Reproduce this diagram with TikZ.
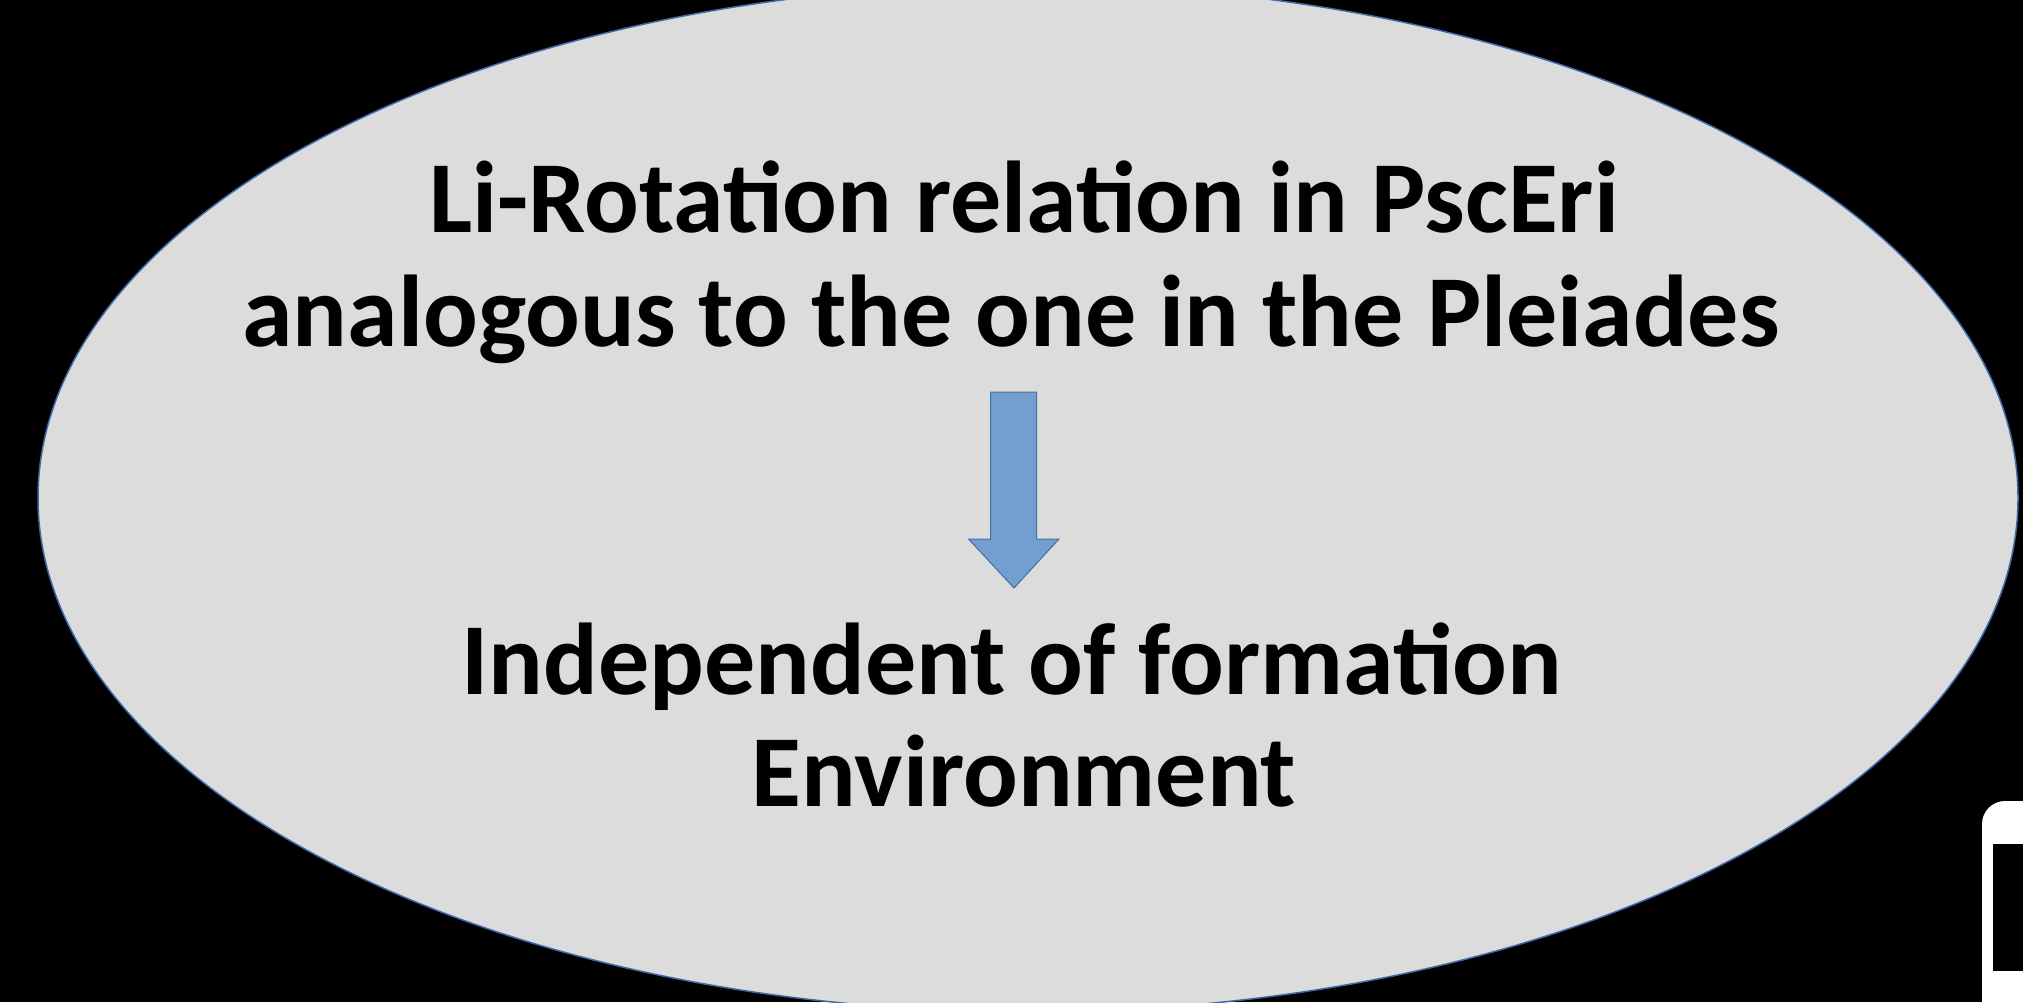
\documentclass[tikz,border=0pt]{standalone}
\usepackage{fontspec}
\setmainfont{Carlito}
\definecolor{ellfill}{RGB}{220,220,220}
\definecolor{ellline}{RGB}{60,105,165}
\definecolor{arrfill}{RGB}{114,159,207}
\definecolor{arrline}{RGB}{65,113,156}
\begin{document}
\begin{tikzpicture}[x=1pt,y=-1pt,
  txt/.style={anchor=base,inner sep=0pt,font=\fontsize{102}{106}\selectfont\bfseries,text=black}]
\useasboundingbox (0,0) rectangle (2023,1002);
\fill[black] (0,0) rectangle (2023,1002);
\begin{scope}
\clip (0,0) rectangle (2023,1002);
% big ellipse
\draw[fill=ellfill,draw=ellline,line width=1.5pt] (1028,498) ellipse [x radius=990, y radius=514];
% white device frame at bottom right
\fill[white,rounded corners=23pt] (1982,801) rectangle (2060,1060);
\fill[black] (1993,844) rectangle (2040,971);
\end{scope}
% texts
\node[txt] (t1) at (1024,232) {Li-Rotation relation in PscEri};
\node[txt] (t2) at (1011,346) {analogous to the one in the Pleiades};
\node[txt] (t3) at (1012,694) {Independent of formation};
\node[txt] (t4) at (1024,806) {Environment};
% block arrow
\draw[fill=arrfill,draw=arrline,line width=1pt,line join=miter]
  (990.7,392) -- (1036.7,392) -- (1036.7,539) -- (1059,539) -- (1014,588)
  -- (968.5,539) -- (990.7,539) -- cycle;
\end{tikzpicture}
\end{document}
